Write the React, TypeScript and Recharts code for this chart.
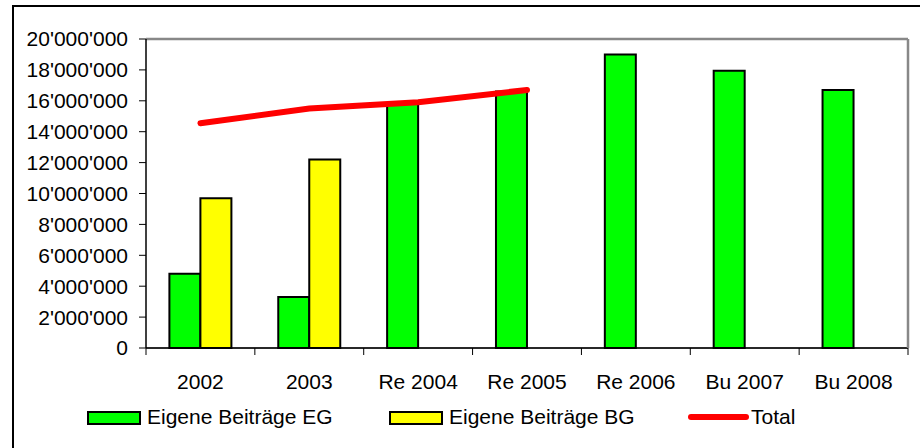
import React from "react";
import { ComposedChart, Bar, Line, XAxis, YAxis, CartesianGrid, ReferenceLine, Legend } from "recharts";

const categories = ["2002", "2003", "Re 2004", "Re 2005", "Re 2006", "Bu 2007", "Bu 2008"];
const eigeneEG = [4800000, 3300000, 15800000, 16600000, 19000000, 17950000, 16700000];
const eigeneBG: (number | null)[] = [9700000, 12200000, null, null, null, null, null];
const total: (number | null)[] = [14550000, 15500000, 15900000, 16700000, null, null, null];
const yTicks = [0, 2000000, 4000000, 6000000, 8000000, 10000000, 12000000, 14000000, 16000000, 18000000, 20000000];

const data = categories.map((c, i) => ({ name: c, eg: eigeneEG[i], bg: eigeneBG[i], total: total[i] }));

const FONT = "'Liberation Sans', Arial, sans-serif";
const FS = 21;
const X_TICK_SIZE = 7;
const X_TICK_MARGIN = 19;

const fmt = (v: number) => String(v).replace(/\B(?=(\d{3})+(?!\d))/g, "'");

const XTick = (props: any) => {
  const { x, y, payload, index, visibleTicksCount } = props;
  const half = payload && payload.offset ? payload.offset : 0;
  const axisY = y - X_TICK_MARGIN - X_TICK_SIZE;
  const last = index === visibleTicksCount - 1;
  return (
    <g>
      <line x1={x - half} x2={x - half} y1={axisY} y2={axisY + X_TICK_SIZE} stroke="#000" strokeWidth={1} />
      {last && <line x1={x + half} x2={x + half} y1={axisY} y2={axisY + X_TICK_SIZE} stroke="#000" strokeWidth={1} />}
      <text x={x} y={y} dy="0.71em" textAnchor="middle" fill="#000" fontFamily={FONT} fontSize={FS}>
        {payload.value}
      </text>
    </g>
  );
};

const LegendContent = () => (
  <div style={{ position: "relative", width: 920, height: 30, fontFamily: FONT, fontSize: FS, color: "#000" }}>
    <div style={{ position: "absolute", left: 87, top: 9, width: 50, height: 10, background: "#00ff00", border: "2px solid #000" }} />
    <span style={{ position: "absolute", left: 147, top: 3, lineHeight: "24px" }}>Eigene Beiträge EG</span>
    <div style={{ position: "absolute", left: 389, top: 9, width: 50, height: 10, background: "#ffff00", border: "2px solid #000" }} />
    <span style={{ position: "absolute", left: 449, top: 3, lineHeight: "24px" }}>Eigene Beiträge BG</span>
    <div style={{ position: "absolute", left: 688, top: 12, width: 61, height: 6, background: "#ff0000", borderRadius: 3 }} />
    <span style={{ position: "absolute", left: 751, top: 3, lineHeight: "24px" }}>Total</span>
  </div>
);

export default function App() {
  return (
    <div style={{ position: "absolute", left: 0, top: 0, width: 920, height: 448, background: "#fff", overflow: "hidden" }}>
      <div style={{ position: "absolute", left: 12, top: 5, width: 920, height: 460, borderLeft: "2px solid #000", borderTop: "2px solid #000" }} />
      <ComposedChart
        width={920}
        height={448}
        data={data}
        margin={{ top: 39, right: 11, bottom: 0, left: 0 }}
        barCategoryGap="21.5%"
        barGap={0}
        style={{ position: "absolute", left: 0, top: 0 }}
      >
        <CartesianGrid vertical={false} stroke="#444" strokeWidth={1} />
        <XAxis
          dataKey="name"
          height={100}
          tickLine={false}
          tickSize={X_TICK_SIZE}
          tickMargin={X_TICK_MARGIN}
          axisLine={{ stroke: "#000", strokeWidth: 1.5 }}
          tick={<XTick />}
          interval={0}
        />
        <YAxis
          yAxisId="l"
          width={146}
          domain={[0, 20000000]}
          ticks={yTicks}
          tickFormatter={fmt}
          tickSize={7}
          tickMargin={11}
          tickLine={{ stroke: "#000" }}
          axisLine={{ stroke: "#000", strokeWidth: 1.5 }}
          tick={{ fill: "#000", fontFamily: FONT, fontSize: FS }}
          interval={0}
        />
        <YAxis
          yAxisId="r"
          orientation="right"
          width={1}
          domain={[0, 20000000]}
          tick={false}
          tickLine={false}
          axisLine={{ stroke: "#888", strokeWidth: 2.5 }}
        />
        <ReferenceLine yAxisId="l" y={20000000} stroke="#888" strokeWidth={2.5} />
        <Bar yAxisId="l" dataKey="eg" name="Eigene Beiträge EG" fill="#00ff00" stroke="#000" strokeWidth={2} isAnimationActive={false} />
        <Bar yAxisId="l" dataKey="bg" name="Eigene Beiträge BG" fill="#ffff00" stroke="#000" strokeWidth={2} isAnimationActive={false} />
        <Line
          yAxisId="l"
          dataKey="total"
          name="Total"
          stroke="#ff0000"
          strokeWidth={6}
          strokeLinecap="round"
          dot={false}
          activeDot={false}
          connectNulls={false}
          isAnimationActive={false}
        />
        <Legend
          layout="horizontal"
          verticalAlign="middle"
          align="center"
          content={<LegendContent />}
          wrapperStyle={{ left: 0, top: 402, width: 920 }}
        />
      </ComposedChart>
    </div>
  );
}
